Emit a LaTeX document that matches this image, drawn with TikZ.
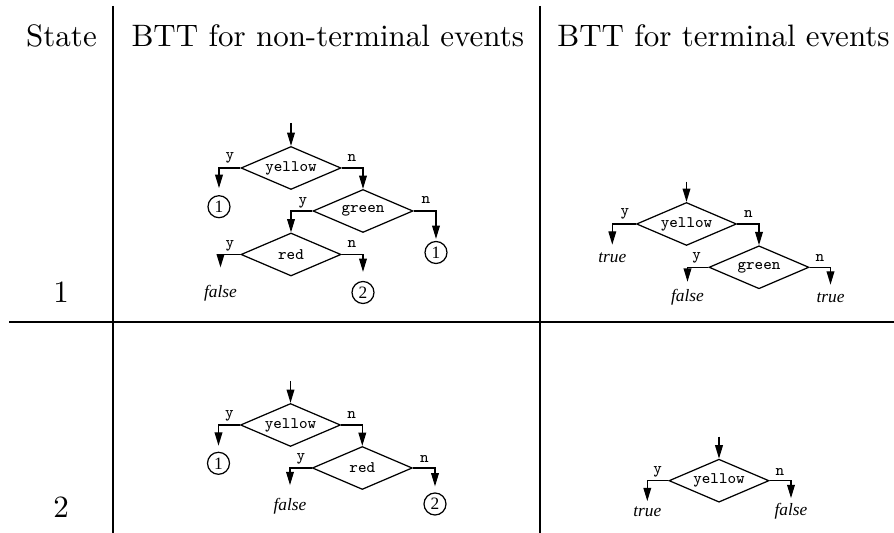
\documentclass[tikz,border=0pt]{standalone}
\usepackage{fontspec}
\newfontfamily\tms{Liberation Serif}
\usetikzlibrary{shapes.geometric,arrows.meta}
\def\u{0.3226pt}
\tikzset{
 dec/.style={diamond, draw, line width=0.4pt, aspect=2.33, minimum width=100*\u, minimum height=43*\u, inner sep=0pt, font=\ttfamily\fontsize{5.2}{6}\selectfont},
 endc/.style={circle, draw, line width=0.4pt, minimum size=22*\u, inner sep=0pt, font=\tms\fontsize{5.6}{6}\selectfont},
 res/.style={inner sep=0pt, font=\tms\itshape\fontsize{5.6}{6}\selectfont},
 lab/.style={inner sep=0pt, font=\ttfamily\fontsize{5.2}{6}\selectfont},
 arr/.style={-{Triangle[length=4.3pt,width=2.5pt]}, line width=0.4pt},
 gridline/.style={line width=0.7pt},
 hdr/.style={anchor=base, inner sep=0pt, font=\fontsize{10}{12}\selectfont}
}
\begin{document}
\begin{tikzpicture}[x=\u, y=-\u]
\useasboundingbox (0,0) rectangle (894,533);
% table
\coordinate (v1t) at (113,6); \coordinate (v1b) at (113,533);
\coordinate (v2t) at (540,6); \coordinate (v2b) at (540,533);
\coordinate (hl) at (9,322); \coordinate (hr) at (894,322);
\draw[gridline] (v1t) -- (v1b);
\draw[gridline] (v2t) -- (v2b);
\draw[gridline] (hl) -- (hr);
\node[hdr] (h1) at (61.5,47) {State};
\node[hdr] (h2) at (327.8,47) {BTT for non-terminal events};
\node[hdr] (h3) at (723.5,47) {BTT for terminal events};
\node[hdr] (s1) at (61,303) {1};
\node[hdr] (s2) at (61,518) {2};

% ---------- state 1, non-terminal ----------
\coordinate (e1) at (291,123);
\node[dec] (A1) at (291,168) {yellow};
\node[dec] (A2) at (363,211) {green};
\node[dec] (A3) at (291,254.5) {red};
\node[endc] (C1a) at (219,206.7) {1};
\node[endc] (C1b) at (436,252.5) {1};
\node[endc] (C1c) at (363,292.5) {2};
\node[res] (F1) at (220.5,293) {false};
\node[lab] (la1) at (230,158) {y};
\node[lab] (la2) at (352,157.7) {n};
\node[lab] (la3) at (303,203) {y};
\node[lab] (la4) at (426,200) {n};
\node[lab] (la5) at (230,245.7) {y};
\node[lab] (la6) at (352,244) {n};
\draw[arr] (e1) -- (A1.north);
\draw[arr, shorten >=7*\u] (A1.west) -| (C1a.north);
\draw[arr] (A1.east) -| (A2.north);
\draw[arr] (A2.west) -| (A3.north);
\draw[arr, shorten >=2*\u] (A2.east) -| (C1b.north);
\draw[arr, shorten >=17*\u] (A3.west) -| (F1.north);
\draw[arr, shorten >=9*\u] (A3.east) -| (C1c.north);

% ---------- state 1, terminal ----------
\coordinate (e2) at (686.5,181.7);
\node[dec] (B1) at (686.5,224) {yellow};
\node[dec] (B2) at (759,267.3) {green};
\node[res] (T2a) at (612.3,257.3) {true};
\node[res] (F2) at (687.5,297.3) {false};
\node[res] (T2b) at (830.5,297.3) {true};
\node[lab] (lb1) at (625,214.3) {y};
\node[lab] (lb2) at (748.3,214) {n};
\node[lab] (lb3) at (696.7,258.3) {y};
\node[lab] (lb4) at (820,258.3) {n};
\draw[arr] (e2) -- (B1.north);
\draw[arr, shorten >=7*\u] (B1.west) -| (T2a.north);
\draw[arr] (B1.east) -| (B2.north);
\draw[arr, shorten >=7*\u] (B2.west) -| (F2.north);
\draw[arr, shorten >=7*\u] (B2.east) -| (T2b.north);

% ---------- state 2, non-terminal ----------
\coordinate (e3) at (290.5,381);
\node[dec] (D1) at (290.5,425) {yellow};
\node[dec] (D2) at (362.3,468) {red};
\node[endc] (C3a) at (218.5,463.3) {1};
\node[endc] (C3b) at (435,504) {2};
\node[res] (F3) at (290,506.7) {false};
\node[lab] (ld1) at (229.3,416) {y};
\node[lab] (ld2) at (351.7,415) {n};
\node[lab] (ld3) at (301,459) {y};
\node[lab] (ld4) at (424.3,459) {n};
\draw[arr] (e3) -- (D1.north);
\draw[arr, shorten >=6*\u] (D1.west) -| (C3a.north);
\draw[arr] (D1.east) -| (D2.north);
\draw[arr, shorten >=13*\u] (D2.west) -| (F3.north);
\draw[arr, shorten >=6*\u] (D2.east) -| (C3b.north);

% ---------- state 2, terminal ----------
\coordinate (e4) at (719,436.7);
\node[dec] (G1) at (719,480.7) {yellow};
\node[res] (T4) at (647.3,511.7) {true};
\node[res] (F4) at (791,511.7) {false};
\node[lab] (lg1) at (657.7,471.7) {y};
\node[lab] (lg2) at (780,471.7) {n};
\draw[arr] (e4) -- (G1.north);
\draw[arr, shorten >=5*\u] (G1.west) -| (T4.north);
\draw[arr, shorten >=5*\u] (G1.east) -| (F4.north);
\end{tikzpicture}
\end{document}
